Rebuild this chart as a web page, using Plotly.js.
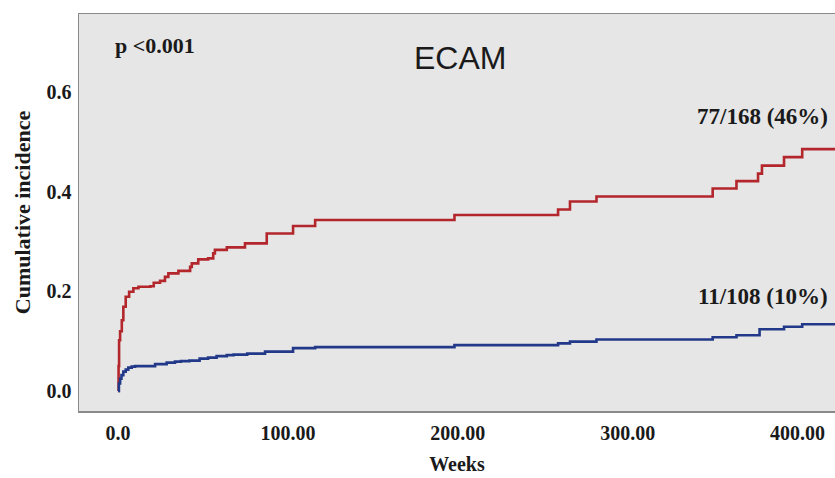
<!DOCTYPE html>
<html>
<head>
<meta charset="utf-8">
<script src="https://cdn.plot.ly/plotly-3.0.1.min.js"></script>
<style>html,body{margin:0;padding:0;background:#fff;}#chart{width:835px;height:478px;}</style>
</head>
<body>
<div id="chart"></div>
<script>
// Weeks at which the cumulative incidence steps, and the value after each step
const redWeeks = [0, 0.3, 0.6, 1.2, 2.2, 3.1, 4.5, 6.5, 9, 12, 19, 21, 24.7, 27.6, 29.6, 35.5, 42.4, 43.4, 47.2, 53, 56, 57, 64, 74.7, 87.5, 103, 116, 198, 259, 266, 281.6, 350, 364, 376.7, 379, 392, 402.7, 422];
const redIncidence = [0, 0.05, 0.102, 0.12, 0.142, 0.169, 0.189, 0.199, 0.206, 0.209, 0.21, 0.217, 0.221, 0.229, 0.236, 0.241, 0.249, 0.256, 0.264, 0.266, 0.276, 0.283, 0.288, 0.296, 0.316, 0.331, 0.343, 0.353, 0.364, 0.38, 0.39, 0.406, 0.421, 0.436, 0.452, 0.469, 0.485, 0.485];

const blueWeeks = [0, 0.5, 1.2, 2, 3.1, 4.5, 6, 8, 10, 21.8, 28.6, 33.5, 37, 42, 48, 53, 58, 64, 68, 76, 86.5, 103, 116, 198, 259, 266, 281.6, 350, 364, 377.6, 392, 402.7, 422];
const blueIncidence = [0, 0.015, 0.025, 0.032, 0.039, 0.043, 0.047, 0.049, 0.05, 0.054, 0.057, 0.059, 0.06, 0.061, 0.065, 0.067, 0.070, 0.072, 0.073, 0.075, 0.079, 0.086, 0.088, 0.092, 0.0955, 0.099, 0.1035, 0.108, 0.112, 0.124, 0.129, 0.134, 0.134];

const xTickVals = [0, 100, 200, 300, 400];
const xTickText = ['0.0', '100.00', '200.00', '300.00', '400.00'];
const yTickVals = [0, 0.2, 0.4, 0.6];
const yTickText = ['0.0', '0.2', '0.4', '0.6'];

const chartTitle = 'ECAM';
const pText = 'p <0.001';
const redLabel = '77/168 (46%)';
const blueLabel = '11/108 (10%)';

const serif = 'Liberation Serif, Times New Roman, serif';
const ink = '#1a1a1a';

const traces = [
  {x: redWeeks, y: redIncidence, type: 'scatter', mode: 'lines', line: {shape: 'hv', color: '#b3262c', width: 2.6}, hoverinfo: 'skip'},
  {x: blueWeeks, y: blueIncidence, type: 'scatter', mode: 'lines', line: {shape: 'hv', color: '#22398a', width: 2.6}, hoverinfo: 'skip'}
];

const layout = {
  width: 835, height: 478,
  margin: {l: 79, r: 0, t: 14, b: 67},
  paper_bgcolor: '#ffffff',
  plot_bgcolor: '#e6e6e6',
  showlegend: false,
  xaxis: {
    range: [-23, 422], tickvals: xTickVals, ticktext: xTickText,
    showgrid: false, zeroline: false, showline: true, mirror: true,
    linecolor: '#8a8a8a', linewidth: 1.5, ticks: '', ticklabelstandoff: 3,
    tickfont: {family: serif, size: 20, color: ink, weight: 'bold'},
    title: {text: '<b>Weeks</b>', standoff: 14, font: {family: serif, size: 20, color: ink}}
  },
  yaxis: {
    range: [-0.04, 0.756], tickvals: yTickVals, ticktext: yTickText,
    showgrid: false, zeroline: false, showline: true, mirror: true,
    linecolor: '#8a8a8a', linewidth: 1.5, ticks: '', ticklabelstandoff: 2,
    tickfont: {family: serif, size: 20, color: ink, weight: 'bold'},
    title: {text: '<b>Cumulative incidence</b>', standoff: 10, font: {family: serif, size: 22, color: ink}}
  },
  annotations: [
    {x: -2.9, y: 0.692, xref: 'x', yref: 'y', text: '<b>' + pText + '</b>', showarrow: false, xanchor: 'left', yanchor: 'middle', font: {family: serif, size: 22, color: ink}},
    {x: 201, y: 0.668, xref: 'x', yref: 'y', text: chartTitle, showarrow: false, xanchor: 'center', yanchor: 'middle', font: {family: 'Liberation Sans, Arial, sans-serif', size: 32, color: ink}},
    {x: 418.8, y: 0.55, xref: 'x', yref: 'y', text: '<b>' + redLabel + '</b>', showarrow: false, xanchor: 'right', yanchor: 'middle', font: {family: serif, size: 23, color: ink}},
    {x: 418.8, y: 0.189, xref: 'x', yref: 'y', text: '<b>' + blueLabel + '</b>', showarrow: false, xanchor: 'right', yanchor: 'middle', font: {family: serif, size: 23, color: ink}}
  ]
};

Plotly.newPlot('chart', traces, layout, {staticPlot: true, displayModeBar: false});
</script>
</body>
</html>
